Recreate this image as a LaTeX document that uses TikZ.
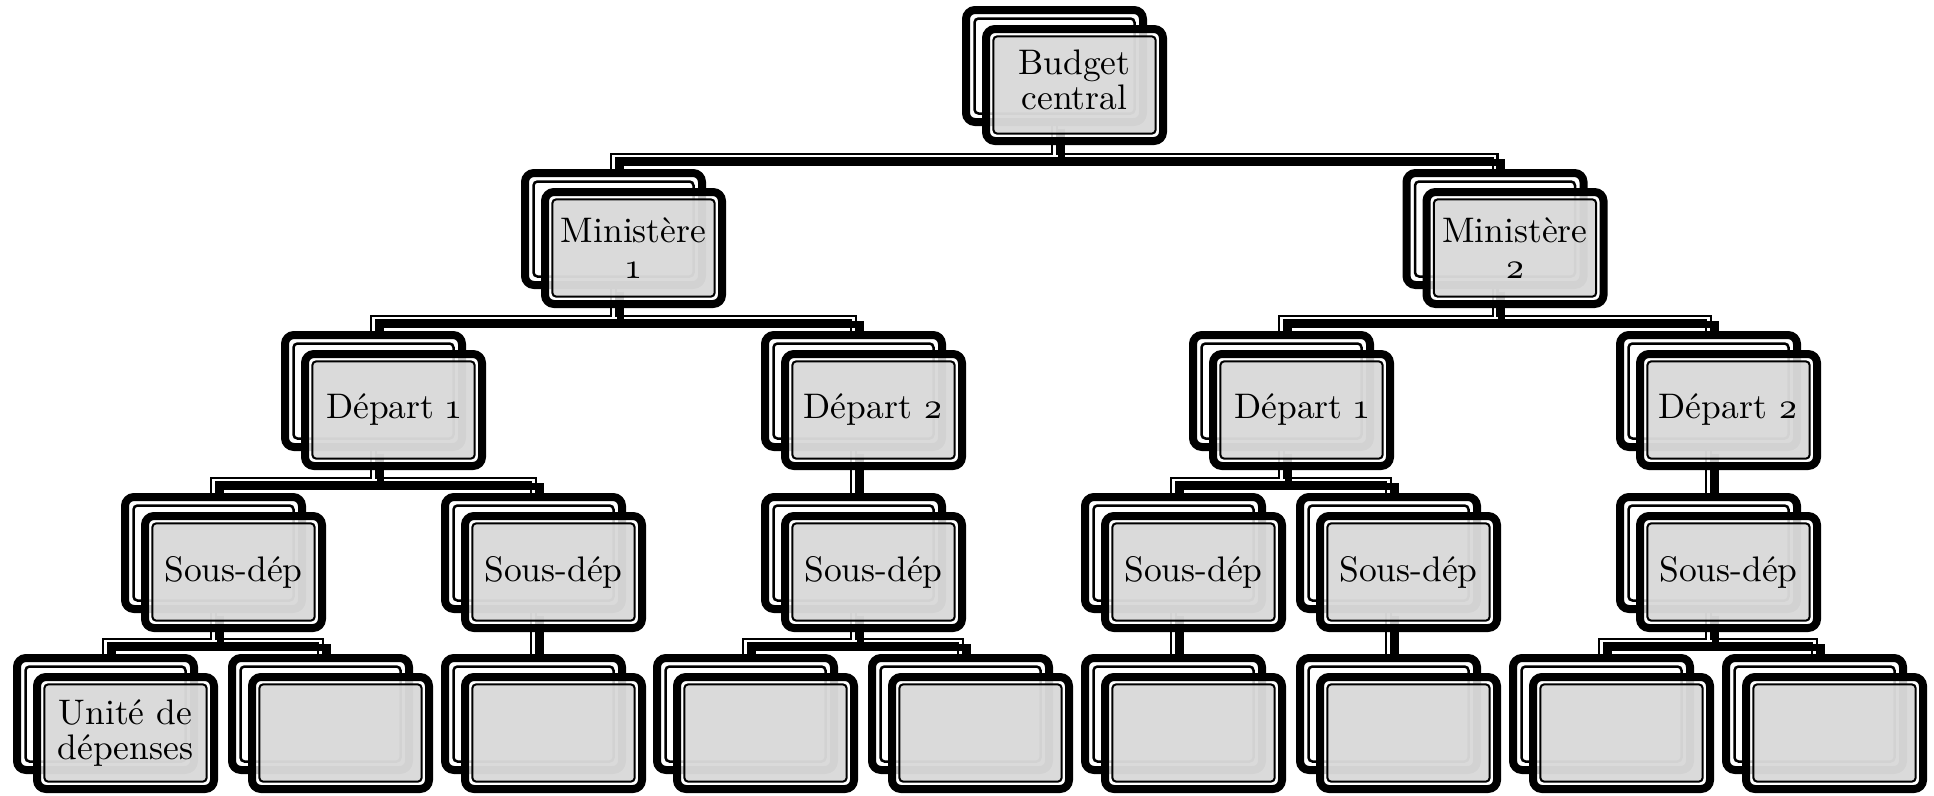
\documentclass[tikz,border=0pt]{standalone}
\usepackage{fontspec}
\setmainfont{lmroman10-regular}[Extension=.otf]

\pgfdeclarelayer{wires}
\pgfsetlayers{wires,main}

\tikzset{
  boxshape/.style={rectangle, rounded corners=9pt, draw=black, line width=8pt,
    minimum width=177pt, minimum height=112pt, inner sep=0pt, outer sep=0pt},
  % shadow copy behind each unit: white, with a thin inner rule
  backbox/.style={boxshape, fill=white,
    path picture={\draw[line width=2.5pt, rounded corners=4pt]
      ([shift={(8.5pt,-8.5pt)}]path picture bounding box.north west) rectangle
      ([shift={(-8.5pt,8.5pt)}]path picture bounding box.south east);}},
  % front unit: translucent grey panel with a thin inner rule
  frontbox/.style={boxshape, align=center, text=black,
    font=\fontsize{35.5pt}{35pt}\selectfont,
    path picture={
      \fill[white, fill opacity=0.8] (path picture bounding box.north west)
        rectangle (path picture bounding box.south east);
      \draw[line width=2pt, rounded corners=4pt, fill=black!17, fill opacity=0.85]
      ([shift={(7.3pt,-7.3pt)}]path picture bounding box.north west) rectangle
      ([shift={(-7.3pt,7.3pt)}]path picture bounding box.south east);}},
  wireblack/.style={draw=black, line width=7pt},
  wirewhite/.style={draw=white, line width=2.6pt},
  wirefront/.style={draw=black, line width=7pt,
    transform canvas={xshift=6.5pt, yshift=-6.5pt}},
}

% one unit: name, left x, top y (pixels, y downwards), label
\newcommand\orgunit[4]{%
  \node[backbox] (b-#1) at ({#2+72.5},{#3+41}) {};
  \node[frontbox] (#1) at ({#2+92.5},{#3+60}) {#4};
}

% parent -> child elbow through the bar just above the child
\newcommand\elbow[3]{%
  \draw[#1] (b-#2.south) |- ([yshift=17pt]b-#3.north) -- (b-#3.north);
}

\newcommand\wirenet[1]{%
  \elbow{#1}{bud}{m1}\elbow{#1}{bud}{m2}
  \elbow{#1}{m1}{d1L}\elbow{#1}{m1}{d2L}
  \elbow{#1}{m2}{d1R}\elbow{#1}{m2}{d2R}
  \elbow{#1}{d1L}{s1}\elbow{#1}{d1L}{s2}
  \elbow{#1}{d2L}{s3}
  \elbow{#1}{d1R}{s4}\elbow{#1}{d1R}{s5}
  \elbow{#1}{d2R}{s6}
  \elbow{#1}{s1}{u1}\elbow{#1}{s1}{u2}
  \elbow{#1}{s2}{u3}
  \elbow{#1}{s3}{u4}\elbow{#1}{s3}{u5}
  \elbow{#1}{s4}{u6}
  \elbow{#1}{s5}{u7}
  \elbow{#1}{s6}{u8}\elbow{#1}{s6}{u9}
}

\begin{document}
\begin{tikzpicture}[x=1pt, y=-1pt]
\useasboundingbox (0,0) rectangle (1934,795);

% level 0
\orgunit{bud}{982}{25}{\fontsize{35.5pt}{31pt}\selectfont Budget\\central\strut}
% level 1
\orgunit{m1}{541}{188}{Ministère\\[1pt]\oldstylenums{1}}
\orgunit{m2}{1422.5}{188}{Ministère\\[1pt]\oldstylenums{2}}
% level 2
\orgunit{d1L}{301}{350}{Départ \oldstylenums{1}}
\orgunit{d2L}{781}{350}{Départ \oldstylenums{2}}
\orgunit{d1R}{1209}{350}{Départ \oldstylenums{1}}
\orgunit{d2R}{1636}{350}{Départ \oldstylenums{2}}
% level 3
\orgunit{s1}{141}{512}{Sous-dép}
\orgunit{s2}{461}{512}{Sous-dép}
\orgunit{s3}{781}{512}{Sous-dép}
\orgunit{s4}{1101}{512}{Sous-dép}
\orgunit{s5}{1316}{512}{Sous-dép}
\orgunit{s6}{1636}{512}{Sous-dép}
% level 4
\orgunit{u1}{33}{673}{Unité de\\dépenses}
\orgunit{u2}{248}{673}{}
\orgunit{u3}{461}{673}{}
\orgunit{u4}{673}{673}{}
\orgunit{u5}{888}{673}{}
\orgunit{u6}{1101}{673}{}
\orgunit{u7}{1316}{673}{}
\orgunit{u8}{1529}{673}{}
\orgunit{u9}{1742}{673}{}

% connectors, drawn underneath the units
\begin{pgfonlayer}{wires}
  \wirenet{wireblack}
  \wirenet{wirewhite}
  \wirenet{wirefront}
\end{pgfonlayer}
\end{tikzpicture}
\end{document}
